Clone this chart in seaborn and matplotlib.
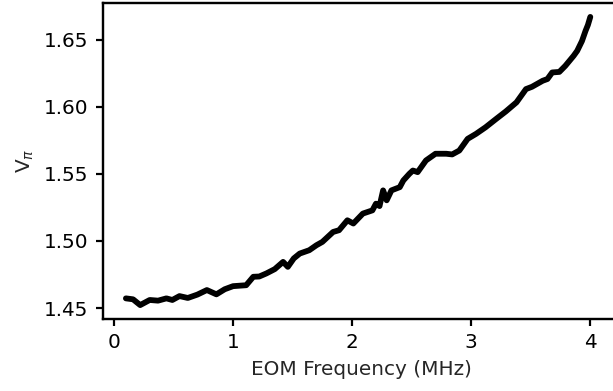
import matplotlib
matplotlib.use("Agg")
import matplotlib.pyplot as plt
import seaborn as sns
import pandas as pd

freq_mhz = [0.10, 0.16, 0.22, 0.30, 0.37, 0.44, 0.49, 0.55, 0.62, 0.70,
            0.78, 0.86, 0.93, 1.00, 1.11, 1.17, 1.22, 1.28, 1.35, 1.42,
            1.46, 1.51, 1.56, 1.64, 1.70, 1.75, 1.84, 1.89, 1.96, 2.01,
            2.09, 2.17, 2.20, 2.23, 2.26, 2.29, 2.33, 2.40, 2.43, 2.48,
            2.51, 2.55, 2.62, 2.70, 2.79, 2.84, 2.90, 2.97, 3.04, 3.12,
            3.21, 3.29, 3.38, 3.46, 3.51, 3.60, 3.64, 3.68, 3.74, 3.79,
            3.86, 3.89, 3.93, 3.96, 3.98, 4.00]
v_pi = [1.4572, 1.4565, 1.4522, 1.4560, 1.4555, 1.4572, 1.4560, 1.4589, 1.4575, 1.4600,
        1.4634, 1.4602, 1.4640, 1.4663, 1.4670, 1.4733, 1.4735, 1.4758, 1.4790, 1.4844,
        1.4807, 1.4870, 1.4906, 1.4931, 1.4968, 1.4993, 1.5067, 1.5080, 1.5154, 1.5130,
        1.5204, 1.5228, 1.5278, 1.5260, 1.5377, 1.5303, 1.5377, 1.5401, 1.5451, 1.5500,
        1.5525, 1.5513, 1.5600, 1.5650, 1.5650, 1.5645, 1.5674, 1.5761, 1.5798, 1.5847,
        1.5910, 1.5965, 1.6033, 1.6132, 1.6149, 1.6194, 1.6207, 1.6256, 1.6260, 1.6305,
        1.6380, 1.6417, 1.6490, 1.6566, 1.6610, 1.6670]

df = pd.DataFrame({"freq": freq_mhz, "vpi": v_pi})

sns.set_style("ticks")
plt.rcParams["font.family"] = ["DejaVu Sans"]
plt.rcParams["font.size"] = 10

fig = plt.figure(figsize=(613 / 144, 391 / 144), dpi=144)
ax = fig.add_axes([0.1675, 0.1829, 0.845, 0.8107])
sns.lineplot(data=df, x="freq", y="vpi", color="black", linewidth=2.9, ax=ax)
ax.set_xlim(-0.095, 4.195 + 0.06)
ax.set_xticks([0, 1, 2, 3, 4])
ax.set_yticks([1.45, 1.50, 1.55, 1.60, 1.65])
ax.set_yticklabels(["1.45", "1.50", "1.55", "1.60", "1.65"])
ax.set_xlabel("EOM Frequency (MHz)")
ax.set_ylabel(r"V$_\pi$")
for s in ax.spines.values():
    s.set_color("black")
    s.set_linewidth(1.2)
ax.tick_params(colors="black", labelsize=10, width=1.1)
fig.savefig("out.png", dpi=144)
